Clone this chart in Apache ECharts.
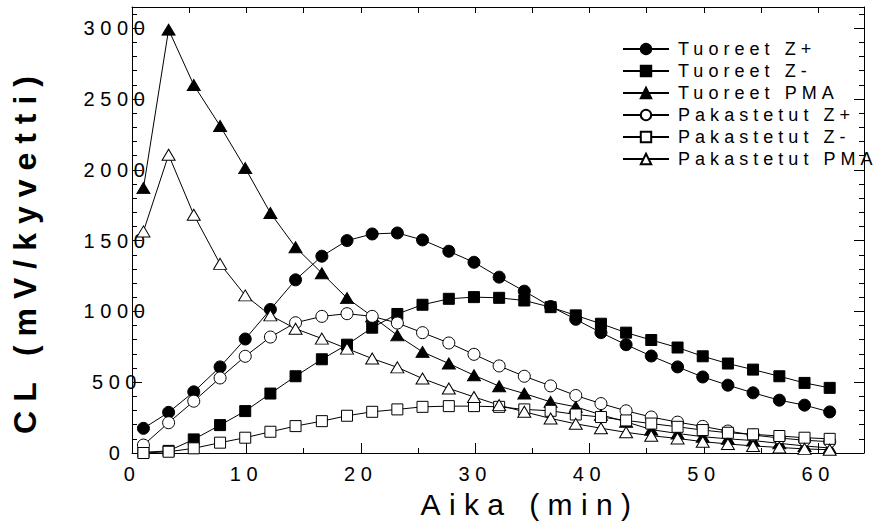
<!DOCTYPE html>
<html lang="fi">
<head>
<meta charset="utf-8">
<title>CL (mV/kyvetti)</title>
<script src="https://cdn.jsdelivr.net/npm/echarts@6/dist/echarts.min.js"></script>
<style>
    html, body { margin: 0; padding: 0; background: #fff; }
    #main { width: 880px; height: 526px; }
    /* the original plot has spaced-out lettering */
    #main text { letter-spacing: 0.28em; }
</style>
</head>
<body>
<div id="main"></div>
<script>
    // time (min)
    var aika = [1.0, 3.2, 5.4, 7.7, 9.9, 12.1, 14.3, 16.6, 18.8, 21.0, 23.2, 25.4, 27.7, 29.9,
                32.1, 34.3, 36.6, 38.8, 41.0, 43.2, 45.4, 47.7, 49.9, 52.1, 54.3, 56.6, 58.8, 61.0];

    // CL (mV/kyvetti)
    var tuoreetZplus = [174, 287, 432, 608, 805, 1014, 1223, 1390, 1500, 1547, 1554, 1505, 1425, 1347,
                        1242, 1143, 1035, 944, 850, 765, 685, 608, 537, 479, 425, 373, 338, 290];
    var tuoreetZminus = [5, 15, 96, 197, 296, 420, 542, 662, 765, 885, 982, 1047, 1089, 1101,
                         1096, 1077, 1030, 972, 913, 850, 798, 745, 683, 632, 589, 542, 495, 460];
    var tuoreetPMA = [1871, 2990, 2599, 2310, 2012, 1695, 1453, 1270, 1094, 965, 831, 714, 632, 549,
                      472, 420, 361, 326, 270, 220, 165, 138, 115, 100, 88, 68, 50, 35];
    var pakastetutZplus = [56, 214, 366, 530, 683, 819, 920, 965, 984, 965, 918, 850, 777, 697,
                           615, 542, 474, 406, 349, 298, 254, 218, 188, 155, 127, 106, 90, 80];
    var pakastetutZminus = [0, 9, 33, 73, 108, 150, 190, 225, 263, 291, 308, 326, 331, 331,
                            326, 308, 298, 272, 254, 230, 208, 185, 162, 143, 132, 120, 108, 100];
    var pakastetutPMA = [1565, 2106, 1683, 1336, 1113, 972, 878, 808, 737, 667, 605, 526, 456, 396,
                         338, 291, 244, 206, 175, 146, 122, 103, 80, 64, 50, 39, 29, 23];

    var font = "'Liberation Sans', Arial, sans-serif";
    var black = '#000';

    function serie(name, values, symbol, size, filled) {
        return {
            name: name,
            type: 'line',
            xAxisIndex: 0,
            yAxisIndex: 0,
            data: aika.map(function (t, i) { return [t, values[i]]; }),
            symbol: symbol,
            symbolSize: size,
            showAllSymbol: true,
            lineStyle: { color: black, width: 1 },
            itemStyle: { color: filled ? black : '#fff', borderColor: black, borderWidth: 1 },
            emphasis: { disabled: true }
        };
    }

    function xAx(pos, interval, tickLen, showLine) {
        return {
            type: 'value', min: 0, max: 64, interval: interval, position: pos,
            axisLine: { show: showLine, onZero: false, lineStyle: { color: black, width: 1 } },
            axisTick: { inside: true, length: tickLen, lineStyle: { color: black, width: 1 } },
            axisLabel: { show: false },
            splitLine: { show: false }
        };
    }

    function yAx(pos, interval, tickLen, showLine) {
        return {
            type: 'value', min: 0, max: 3150, interval: interval, position: pos,
            axisLine: { show: showLine, onZero: false, lineStyle: { color: black, width: 1 } },
            axisTick: { inside: true, length: tickLen, lineStyle: { color: black, width: 1 } },
            axisLabel: { show: false },
            splitLine: { show: false }
        };
    }

    var xMain = xAx('bottom', 10, 10, true);
    xMain.axisLabel = { show: true, margin: 11, fontSize: 20, color: black, fontFamily: font, showMaxLabel: false };
    xMain.name = 'Aika (min)';
    xMain.nameLocation = 'middle';
    xMain.nameGap = 36;
    xMain.nameTextStyle = { fontSize: 30, color: black, fontFamily: font, padding: [0, 0, 0, 64] };

    var yMain = yAx('left', 500, 10, true);
    yMain.axisLabel = {
        show: true, margin: 15, align: 'center', fontSize: 20, color: black, fontFamily: font, showMaxLabel: false,
        formatter: function (v) { return String(v); }
    };
    yMain.name = 'CL (mV/kyvetti)';
    yMain.nameLocation = 'middle';
    yMain.nameGap = 91;
    yMain.nameRotate = 90;
    yMain.nameTextStyle = { fontSize: 32, fontWeight: 'bold', color: black, fontFamily: font, padding: [0, 41, 0, 0] };

    var chart = echarts.init(document.getElementById('main'), null, { renderer: 'svg' });
    chart.setOption({
        animation: false,
        backgroundColor: '#fff',
        grid: { left: 132, right: 16, top: 7, bottom: 73, containLabel: false },
        xAxis: [xMain, xAx('bottom', 5, 5, false), xAx('top', 5, 6, true)],
        yAxis: [yMain, yAx('left', 100, 5, false), yAx('right', 500, 10, true), yAx('right', 100, 5, false)],
        legend: {
            orient: 'vertical',
            left: 622,
            top: 40,
            padding: 0,
            itemWidth: 46,
            itemHeight: 13,
            itemGap: 4,
            selectedMode: false,
            textStyle: { fontSize: 18, lineHeight: 18, color: black, fontFamily: font, padding: [0, 0, 0, 4] },
            data: ['Tuoreet Z+', 'Tuoreet Z-', 'Tuoreet PMA', 'Pakastetut Z+', 'Pakastetut Z-', 'Pakastetut PMA']
        },
        series: [
            serie('Tuoreet Z+', tuoreetZplus, 'circle', 12, true),
            serie('Tuoreet Z-', tuoreetZminus, 'rect', 11, true),
            serie('Tuoreet PMA', tuoreetPMA, 'triangle', [13, 11], true),
            serie('Pakastetut Z+', pakastetutZplus, 'circle', 12, false),
            serie('Pakastetut Z-', pakastetutZminus, 'rect', 11, false),
            serie('Pakastetut PMA', pakastetutPMA, 'triangle', [13, 11], false)
        ]
    });
</script>
</body>
</html>
